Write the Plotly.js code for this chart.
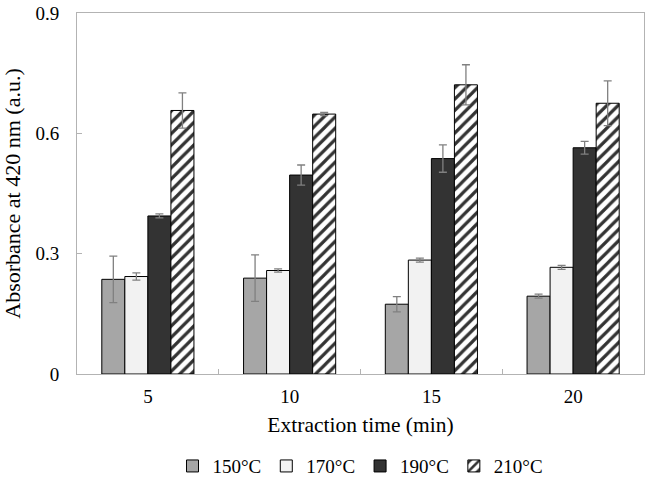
<!DOCTYPE html>
<html>
<head>
<meta charset="utf-8">
<script src="https://cdn.plot.ly/plotly-3.0.1.min.js"></script>
<style>html,body{margin:0;padding:0;background:#fff;}</style>
</head>
<body>
<div id="chart" style="width:646px;height:483px;"></div>
<script>
const categories = ["5", "10", "15", "20"];
const seriesNames = ["150°C", "170°C", "190°C", "210°C"];
const values150 = [0.236, 0.239, 0.174, 0.194];
const errors150 = [0.058, 0.058, 0.019, 0.005];
const values170 = [0.243, 0.258, 0.284, 0.266];
const errors170 = [0.009, 0.004, 0.005, 0.005];
const values190 = [0.394, 0.496, 0.537, 0.564];
const errors190 = [0.005, 0.025, 0.034, 0.016];
const values210 = [0.657, 0.648, 0.721, 0.675];
const errors210 = [0.044, 0.004, 0.050, 0.056];
const yTicks = [0, 0.3, 0.6, 0.9];
const yTickLabels = ["0", "0.3", "0.6", "0.9"];

const font = "Liberation Serif, Times New Roman, serif";
const fills = ["#a6a6a6", "#f2f2f2", "#333333", "#ffffff"];
const allValues = [values150, values170, values190, values210];
const allErrors = [errors150, errors170, errors190, errors210];

const traces = allValues.map((vals, i) => {
  const marker = {color: fills[i], line: {color: "#000000", width: 1}};
  if (i === 3) {
    marker.pattern = {shape: "/", fgcolor: "#333333", bgcolor: "#ffffff", size: 8, solidity: 0.4, fillmode: "replace"};
  }
  return {
    type: "bar",
    name: seriesNames[i],
    x: categories,
    y: vals,
    marker: marker,
    error_y: {type: "data", array: allErrors[i], visible: true, color: "#808080", thickness: 1.3, width: 4}
  };
});

const layout = {
  width: 646, height: 483,
  margin: {l: 77, r: 2, t: 13, b: 109, autoexpand: false},
  paper_bgcolor: "#ffffff", plot_bgcolor: "#ffffff",
  font: {family: font, size: 19, color: "#000000"},
  barmode: "group", bargap: 0.35, bargroupgap: 0,
  showlegend: true,
  legend: {orientation: "h", x: 0.5, xanchor: "center", yref: "container", y: 0.035, yanchor: "middle",
           font: {family: font, size: 19}, itemwidth: 30, traceorder: "normal"},
  xaxis: {
    type: "category",
    showline: true, linecolor: "#b3b3b3", linewidth: 1, mirror: true,
    ticks: "inside", tickson: "boundaries", ticklen: 5, tickcolor: "#b3b3b3",
    ticklabelstandoff: 5,
    showgrid: false, zeroline: false,
    tickfont: {family: font, size: 19},
    title: {text: "Extraction time (min)", font: {family: font, size: 21.5}, standoff: 11}
  },
  yaxis: {
    range: [0, 0.9],
    tickvals: yTicks, ticktext: yTickLabels,
    showline: true, linecolor: "#b3b3b3", linewidth: 1, mirror: true,
    ticks: "inside", ticklen: 5, tickcolor: "#b3b3b3",
    ticklabelstandoff: 13,
    showgrid: false, zeroline: false,
    tickfont: {family: font, size: 19},
    title: {text: "Absorbance at 420 nm (a.u.)", font: {family: font, size: 22}, standoff: 10}
  }
};

Plotly.newPlot("chart", traces, layout, {displayModeBar: false, staticPlot: true});
</script>
</body>
</html>
